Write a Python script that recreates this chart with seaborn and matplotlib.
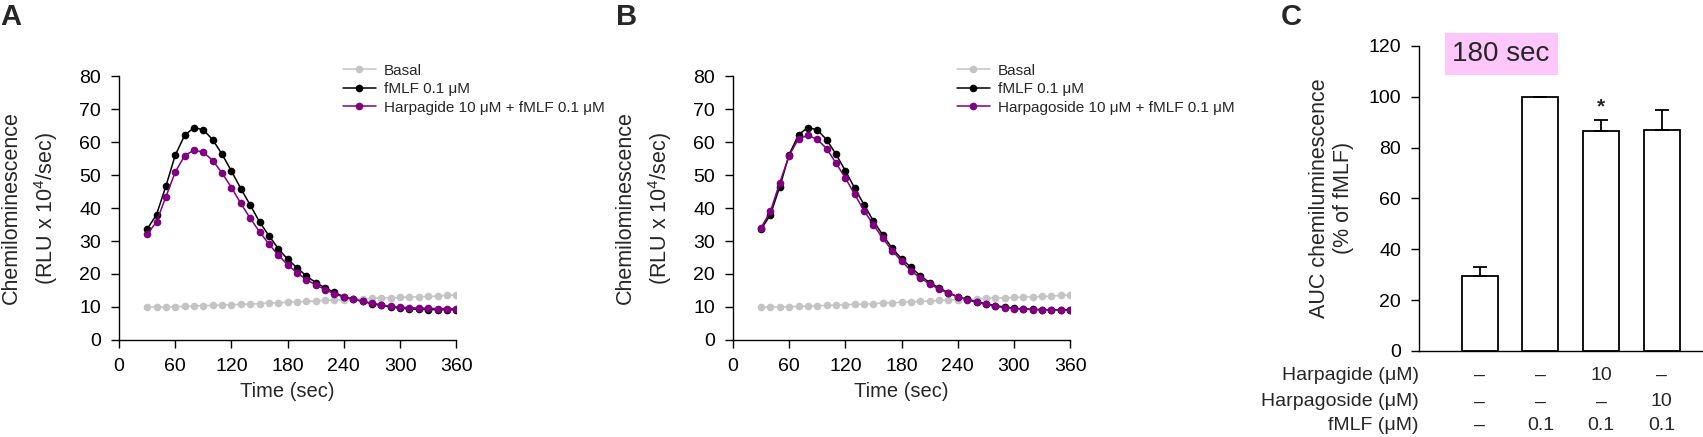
"""
Chemiluminescence time course (A, B) and AUC summary (C) for fMLF-stimulated neutrophils.
"""
import matplotlib
matplotlib.use("Agg")
import matplotlib.pyplot as plt
import seaborn as sns
import pandas as pd
import numpy as np

# ---- data ----
time_sec = [30, 40, 50, 60, 70, 80, 90, 100, 110, 120, 130, 140, 150, 160, 170, 180, 190,
            200, 210, 220, 230, 240, 250, 260, 270, 280, 290, 300, 310, 320, 330, 340, 350, 360]

basal = [10.0, 10.0, 10.0, 10.1, 10.2, 10.3, 10.4, 10.5, 10.6, 10.7, 10.8, 10.9, 11.0, 11.2,
         11.3, 11.4, 11.6, 11.7, 11.8, 12.0, 12.1, 12.2, 12.3, 12.4, 12.6, 12.7, 12.8, 12.9,
         13.0, 13.1, 13.2, 13.3, 13.5, 13.6]

fmlf_a = [33.6, 38.0, 46.6, 56.0, 62.0, 64.4, 63.7, 60.7, 56.3, 51.2, 45.9, 40.9, 35.8, 31.6,
          27.7, 24.5, 21.9, 19.4, 17.4, 15.8, 14.4, 13.1, 12.4, 11.7, 11.0, 10.5, 10.0, 9.7,
          9.4, 9.3, 9.2, 9.2, 9.2, 9.2]

harpagide = [32.0, 35.8, 43.4, 50.9, 55.8, 57.6, 56.9, 54.4, 50.6, 46.2, 41.4, 36.9, 32.8,
             29.1, 25.7, 22.8, 20.4, 18.3, 16.7, 15.3, 14.0, 13.0, 12.4, 11.7, 11.2, 10.6,
             10.2, 10.0, 9.8, 9.7, 9.6, 9.5, 9.5, 9.5]

fmlf_b = [33.5, 38.0, 46.5, 56.2, 62.2, 64.4, 63.7, 60.7, 56.3, 51.3, 46.0, 41.0, 36.0, 31.8,
          27.8, 24.6, 22.0, 19.5, 17.4, 15.8, 14.3, 13.1, 12.3, 11.6, 11.0, 10.4, 10.0, 9.6,
          9.4, 9.3, 9.2, 9.2, 9.1, 9.1]

harpagoside = [34.0, 39.0, 47.7, 55.9, 61.0, 62.0, 60.8, 58.0, 53.6, 49.1, 44.1, 39.2, 34.9,
               30.8, 27.1, 23.9, 21.0, 18.8, 17.0, 15.4, 14.2, 13.1, 12.2, 11.4, 10.8, 10.2,
               9.8, 9.5, 9.4, 9.2, 9.2, 9.1, 9.1, 9.1]

auc_groups = ["basal", "fmlf", "harpagide", "harpagoside"]
auc_mean = [29.5, 100.0, 86.5, 87.0]
auc_sem = [3.7, 0.0, 4.3, 7.9]

row_names = ["Harpagide (\u03bcM)", "Harpagoside (\u03bcM)", "fMLF (\u03bcM)"]
row_harpagide = ["\u2013", "\u2013", "10", "\u2013"]
row_harpagoside = ["\u2013", "\u2013", "\u2013", "10"]
row_fmlf = ["\u2013", "0.1", "0.1", "0.1"]

sns.set_theme(style="ticks")
plt.rcParams["font.family"] = ["Liberation Sans", "DejaVu Sans"]
plt.rcParams["mathtext.fontset"] = "custom"
plt.rcParams["mathtext.rm"] = "Liberation Sans"
plt.rcParams["mathtext.it"] = "Liberation Sans"

GRAY = "#c4c4c4"
PURPLE = "#800080"
TICK_FS = 14
LABEL_FS = 15.5

fig = plt.figure(figsize=(17.03, 4.37), dpi=100)


def style_axes(ax):
    ax.tick_params(labelsize=TICK_FS, length=6, width=1, pad=7, colors="black")
    for s in ["left", "bottom"]:
        ax.spines[s].set_linewidth(1)
        ax.spines[s].set_color("black")
    sns.despine(ax=ax)


def time_panel(rect, fmlf, treat, treat_label):
    ax = fig.add_axes(rect)
    labels = ["Basal", "fMLF 0.1 \u03bcM", treat_label]
    df = pd.DataFrame({
        "time": time_sec * 3,
        "value": basal + fmlf + treat,
        "series": [labels[0]] * len(time_sec) + [labels[1]] * len(time_sec)
                  + [labels[2]] * len(time_sec),
    })
    sns.lineplot(data=df, x="time", y="value", hue="series", hue_order=labels,
                 palette=[GRAY, "black", PURPLE], marker="o", markersize=5.5,
                 markeredgewidth=0, linewidth=1.1, ax=ax)
    ax.set_xlim(0, 360)
    ax.set_ylim(0, 80)
    ax.set_xticks([0, 60, 120, 180, 240, 300, 360])
    ax.set_yticks(range(0, 81, 10))
    style_axes(ax)
    ax.set_xlabel("Time (sec)", fontsize=14.5, labelpad=5)
    ax.set_ylabel("Chemilominescence\n(RLU x 10$^{4}$/sec)", fontsize=LABEL_FS,
                  labelpad=14, linespacing=1.45)
    handles, labs = ax.get_legend_handles_labels()
    ax.legend(handles, labs, frameon=False, fontsize=11, loc="upper left",
              bbox_to_anchor=(0.645, 1.07), handlelength=2.2, handletextpad=0.5,
              labelspacing=0.3, borderaxespad=0)
    return ax


time_panel([0.0699, 0.222, 0.198, 0.604], fmlf_a, harpagide,
           "Harpagide 10 \u03bcM + fMLF 0.1 \u03bcM")
time_panel([0.4304, 0.222, 0.198, 0.604], fmlf_b, harpagoside,
           "Harpagoside 10 \u03bcM + fMLF 0.1 \u03bcM")

# ---- panel C: AUC bars ----
axc = fig.add_axes([0.8332, 0.197, 0.1675, 0.698])
auc_df = pd.DataFrame({"group": auc_groups, "auc": auc_mean})
sns.barplot(data=auc_df, x="group", y="auc", order=auc_groups, color="white",
            edgecolor="black", linewidth=1.3, width=0.59, ax=axc)
centers = [p.get_x() + p.get_width() / 2 for p in axc.patches]
axc.errorbar(centers, auc_mean, yerr=[np.zeros(len(auc_sem)), auc_sem], fmt="none",
             ecolor="black", elinewidth=1.3, capsize=5, capthick=1.3, zorder=3)
axc.set_xlim(-1.0, 3.7)
axc.set_ylim(0, 120)
axc.set_yticks(range(0, 121, 20))
axc.set_xticks([])
axc.set_xlabel("")
axc.set_ylabel("AUC chemiluminescence\n(% of fMLF)", fontsize=LABEL_FS, labelpad=10)
style_axes(axc)
axc.text(centers[2], auc_mean[2] + auc_sem[2] + 1.5, "*", ha="center", va="bottom",
         fontsize=15, fontweight="bold")
axc.text(0.288, 0.973, "180 sec", transform=axc.transAxes, ha="center", va="center",
         fontsize=20, bbox=dict(boxstyle="square,pad=0.28", facecolor="#fdc7fb",
                                edgecolor="none"))

trans = axc.get_xaxis_transform()
for row_y, name, vals in zip([-0.079, -0.167, -0.245], row_names,
                             [row_harpagide, row_harpagoside, row_fmlf]):
    axc.text(-1.0, row_y, name, transform=trans, ha="right", va="center", fontsize=TICK_FS)
    for cx, v in zip(centers, vals):
        axc.text(cx, row_y, v, transform=trans, ha="center", va="center", fontsize=TICK_FS)

# ---- panel letters ----
for x, letter in [(0.0, "A"), (0.362, "B"), (0.752, "C")]:
    fig.text(x, 0.993, letter, fontsize=21, fontweight="bold", ha="left", va="top")

fig.savefig("out.png", dpi=100)
plt.close(fig)
